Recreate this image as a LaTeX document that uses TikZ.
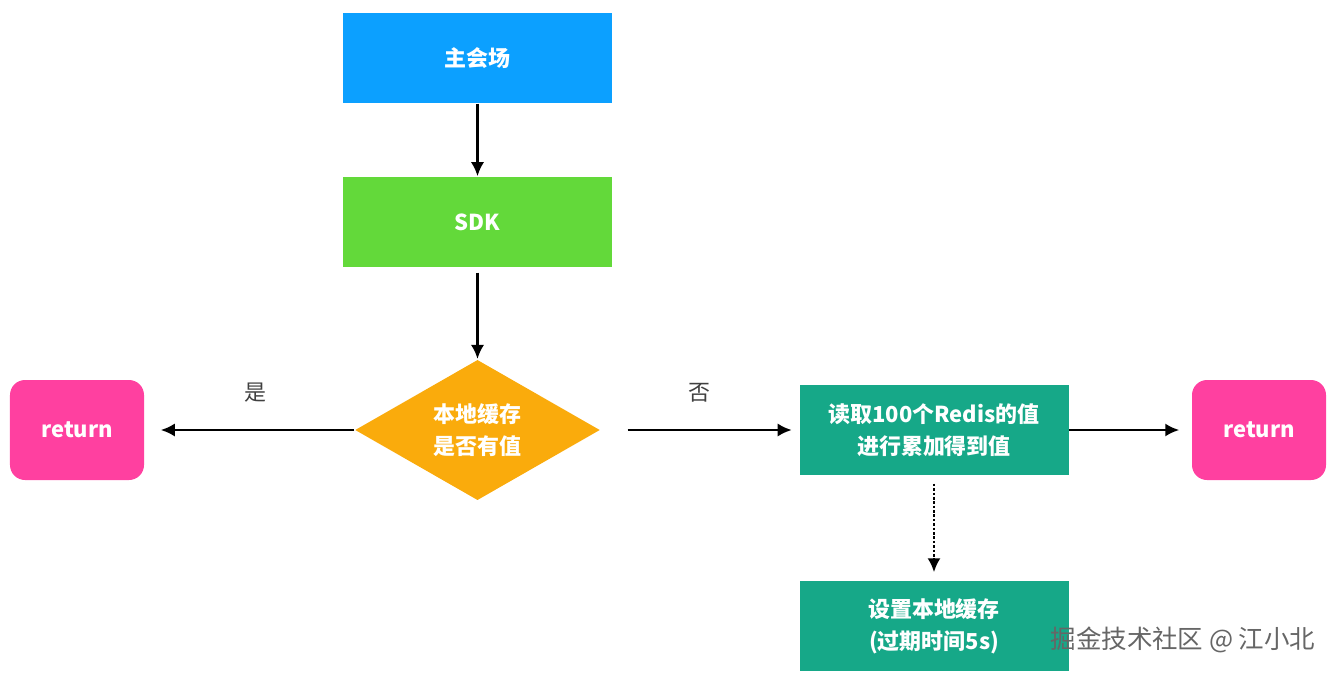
\documentclass[tikz,border=0pt]{standalone}
\usepackage{fontspec}
\setmainfont{Noto Sans CJK SC}
\usetikzlibrary{shapes.geometric,arrows.meta}
\definecolor{venueblue}{RGB}{12,160,255}
\definecolor{sdkgreen}{RGB}{99,217,58}
\definecolor{checkorange}{RGB}{250,171,12}
\definecolor{retpink}{RGB}{255,64,160}
\definecolor{redisteal}{RGB}{22,168,136}
\begin{document}
\begin{tikzpicture}[
  thick,flow node/.style={rectangle,text=white,font=\bfseries\fontsize{12.5}{18}\selectfont,
    minimum width=5.38cm,minimum height=1.8cm,inner sep=0pt,align=center},
  ret node/.style={flow node,fill=retpink,rounded corners=0.3cm,minimum width=2.68cm,minimum height=2cm},
  check node/.style={diamond,fill=checkorange,text=white,font=\bfseries\fontsize{12.5}{18}\selectfont,
    minimum width=4.9cm,minimum height=2.6cm,inner sep=0pt,align=center},
  link/.style={line width=1.5pt,-{Latex[length=8pt,width=7.5pt]}}]
  \useasboundingbox (0,0) rectangle (26.7,-13.5);
  \node[flow node,fill=venueblue] (venue) at (9.55,-1.16){主会场};
  \node[flow node,fill=sdkgreen] (sdk) at (9.55,-4.44){SDK};
  \node[check node] (check) at (9.55,-8.6){本地缓存\\是否有值};
  \node[ret node] (retL) at (1.54,-8.6) {return};
  \node[flow node,fill=redisteal] (redis) at (18.68,-8.6) {读取100个Redis的值\\进行累加得到值};
  \node[ret node] (retR) at (25.18,-8.6) {return};
  \node[flow node,fill=redisteal] (cache) at (18.68,-12.52) {设置本地缓存\\(过期时间5s)};
  \node[text=gray!80!black,font=\fontsize{14.5}{18}\selectfont] (mark) at (23.66,-12.8) {掘金技术社区 @ 江小北};
  \path[every node/.style={font=\fontsize{12.5}{18}\selectfont,text=black!75}]
   (venue) edge[link] (sdk)
   (sdk) edge[link,shorten <=0.1cm] (check)
   (check) edge[link,shorten >=0.32cm] node[above=0.42cm,xshift=0.12cm]{是} (retL)
   (check) edge[link,shorten <=0.54cm,shorten >=0.14cm] node[above=0.42cm]{否} (redis)
   (redis) edge[link,shorten >=0.24cm] (retR)
   (redis) edge[link,densely dotted,shorten <=0.16cm,shorten >=0.16cm] (cache);
\end{tikzpicture}
\end{document}
